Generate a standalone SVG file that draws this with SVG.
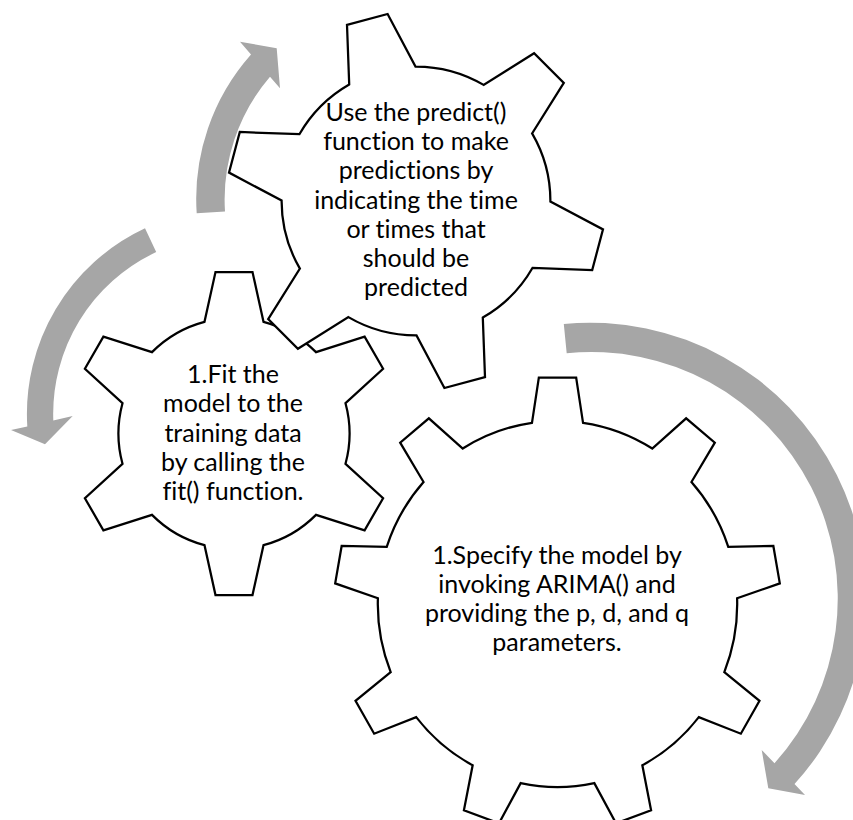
<svg xmlns="http://www.w3.org/2000/svg" width="853" height="820" viewBox="0 0 853 820">
<style>
.gear{fill:#ffffff;stroke:#000000;stroke-width:2.25;stroke-linejoin:miter;vector-effect:non-scaling-stroke}
.arrow{fill:#a6a6a6;stroke:none}
.lbl{font-family:Lato,"Open Sans",sans-serif;font-size:25px;fill:#000000;text-anchor:middle;font-variant-ligatures:none;font-feature-settings:"liga" 0,"clig" 0}
</style>
<rect width="853" height="820" fill="#ffffff"/>
<g id="gear-specify">
<path class="gear" transform="translate(557.5,604) scale(0.982,1)" d="M -26,-181.2 L -19,-226.5 L 19,-226.5 L 26,-181.2 A 183 183 0 0 1 96.5,-155.5 L 131,-185.7 L 160.2,-161.3 L 136.4,-122 A 183 183 0 0 1 173.9,-57.1 L 219.8,-58 L 226.4,-20.6 L 182.9,-5.8 A 183 183 0 0 1 169.9,68.1 L 205.7,96.8 L 186.7,129.7 L 143.9,113.1 A 183 183 0 0 1 86.4,161.3 L 95.3,206.3 L 59.6,219.3 L 37.5,179.1 A 183 183 0 0 1 -37.5,179.1 L -59.6,219.3 L -95.3,206.3 L -86.4,161.3 A 183 183 0 0 1 -143.9,113.1 L -186.7,129.7 L -205.7,96.8 L -169.9,68.1 A 183 183 0 0 1 -182.9,-5.8 L -226.4,-20.6 L -219.8,-58 L -173.9,-57.1 A 183 183 0 0 1 -136.4,-122 L -160.2,-161.3 L -131,-185.7 L -96.5,-155.5 A 183 183 0 0 1 -26,-181.2 Z"/>
<text class="lbl" x="557" y="564">1.Specify the model by</text>
<text class="lbl" x="557" y="593">invoking ARIMA() and</text>
<text class="lbl" x="557" y="622">providing the p, d, and q</text>
<text class="lbl" x="557" y="651">parameters.</text>
</g>
<g id="gear-fit">
<path class="gear" transform="translate(234,433.5)" d="M -29.5,-111.7 L -18.5,-161.5 L 18.5,-161.5 L 29.5,-111.7 A 115.5 115.5 0 0 1 82,-81.4 L 130.6,-96.8 L 149.1,-64.7 L 111.5,-30.3 A 115.5 115.5 0 0 1 111.5,30.3 L 149.1,64.7 L 130.6,96.8 L 82,81.4 A 115.5 115.5 0 0 1 29.5,111.7 L 18.5,161.5 L -18.5,161.5 L -29.5,111.7 A 115.5 115.5 0 0 1 -82,81.4 L -130.6,96.8 L -149.1,64.7 L -111.5,30.3 A 115.5 115.5 0 0 1 -111.5,-30.3 L -149.1,-64.7 L -130.6,-96.8 L -82,-81.4 A 115.5 115.5 0 0 1 -29.5,-111.7 Z"/>
<text class="lbl" x="233" y="383">1.Fit the</text>
<text class="lbl" x="233" y="412.3">model to the</text>
<text class="lbl" x="233" y="441.6">training data</text>
<text class="lbl" x="233" y="470.9">by calling the</text>
<text class="lbl" x="233" y="500.2">fit() function.</text>
</g>
<g id="gear-predict">
<path class="gear" transform="translate(416,201)" d="M -66.8,-116.6 L -69,-176.2 L -28.4,-187 L -0.5,-134.4 A 134.4 134.4 0 0 1 67.6,-116.1 L 118.1,-147.8 L 147.8,-118.1 L 116.1,-67.6 A 134.4 134.4 0 0 1 134.4,0.5 L 187,28.4 L 176.2,69 L 116.6,66.8 A 134.4 134.4 0 0 1 66.8,116.6 L 69,176.2 L 28.4,187 L 0.5,134.4 A 134.4 134.4 0 0 1 -67.6,116.1 L -118.1,147.8 L -147.8,118.1 L -116.1,67.6 A 134.4 134.4 0 0 1 -134.4,-0.5 L -187,-28.4 L -176.2,-69 L -116.6,-66.8 A 134.4 134.4 0 0 1 -66.8,-116.6 Z"/>
<text class="lbl" x="416" y="121">Use the predict()</text>
<text class="lbl" x="416" y="150.2">function to make</text>
<text class="lbl" x="416" y="179.4">predictions by</text>
<text class="lbl" x="416" y="208.6">indicating the time</text>
<text class="lbl" x="416" y="237.8">or times that</text>
<text class="lbl" x="416" y="267">should be</text>
<text class="lbl" x="416" y="296.2">predicted</text>
</g>
<g id="connectors">
<path id="arrow-predict-to-fit" class="arrow" d="M 196.7 213.3 A 217.5 217.5 0 0 1 251 54.5 L 240 41.7 L 276.7 48.3 L 280 88.3 L 270 76.7 A 189 189 0 0 0 225 211.6 Z"/>
<path id="arrow-fit" class="arrow" d="M 145 228.3 A 204.8 204.8 0 0 0 27.3 426.4 L 11 430 L 45 444.3 L 72.7 416 L 53.3 420.5 A 178.5 178.5 0 0 1 156.2 252.1 Z"/>
<path id="arrow-specify" class="arrow" d="M 563.8 323.9 A 276 276 0 0 1 794.5 784.1 L 805 795 L 768.3 788.3 L 761.7 750 L 774.5 763.3 A 246.4 246.4 0 0 0 566.7 353.3 Z"/>
</g>
</svg>
